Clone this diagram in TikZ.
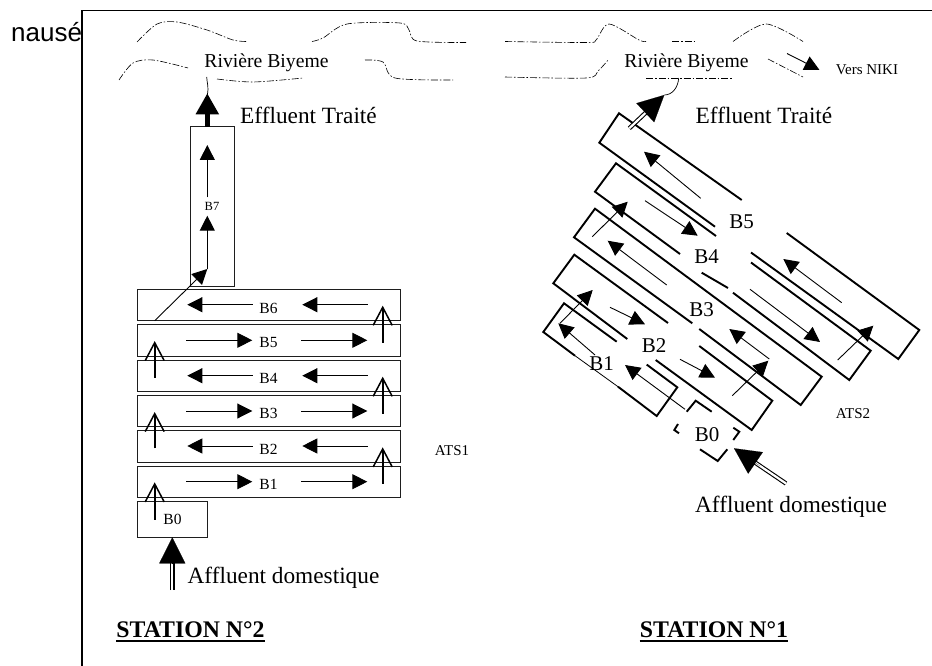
\documentclass[tikz,border=0pt]{standalone}
\usepackage{fontspec}
\setmainfont{Liberation Serif}
\newfontfamily\noteface{Liberation Sans}
\usetikzlibrary{arrows.meta,calc,positioning}
\definecolor{BoxGrey}{RGB}{30,30,30}
\tikzset{
  thinbox/.style={draw=BoxGrey,line width=1pt},
  thickbox/.style={line width=1.9pt},
  flow/.style={line width=0.9pt,-{Triangle[length=15pt,width=15pt]}},
  riser/.style={line width=2.4pt,-{Straight Barb[length=18pt,width=19pt,line width=1.5pt]}},
  inlet/.style={double,line width=1.1pt,double distance=2.2pt},
  inlethead/.style={line width=0.1pt,-{Triangle[length=26pt,width=26pt]}},
  river/.style={line width=0.6pt,dash pattern=on 7pt off 2pt on 1.5pt off 2pt},
  bigtext/.style={font=\fontsize{23.3}{23.3}\selectfont,anchor=base,inner sep=0pt},
  midtext/.style={font=\fontsize{19.7}{20}\selectfont,anchor=base,inner sep=0pt},
  tagtext/.style={font=\fontsize{15}{15}\selectfont,anchor=base,inner sep=0pt},
  basintext/.style={font=\fontsize{21}{21}\selectfont,anchor=base,inner sep=0pt},
  titletext/.style={font=\fontsize{23.8}{23.8}\selectfont\bfseries,anchor=base,inner sep=0pt}
}
\begin{document}
\begin{tikzpicture}[x=1pt,y=-1pt]
\useasboundingbox (0,0) rectangle (932,666);

% clipped text and frame
\begin{scope}
\clip (0,0) rectangle (81.5,60);
\node[font=\noteface\fontsize{26}{26}\selectfont,anchor=base west,inner sep=0pt] (clipped) at (11,41.5) {nausé};
\end{scope}
\draw[line width=1.4pt] (82,666) -- (82,10.5) -- (932,10.5);

% river banks
\draw[river] plot[smooth] coordinates {(137,42) (157,24) (177,22) (207,30) (233,40) (247,41.5)};
\draw[river] plot[smooth] coordinates {(312,41.5) (323,38) (347,24) (400,23) (409,30) (417,41) (466,42.5)};
\draw[river] plot[smooth] coordinates {(505,41.5) (586,42.5) (596,40) (609,24) (639,40) (646,41.5)};
\draw[river] (672,41.5) -- (697,41.5);
\draw[river] plot[smooth] coordinates {(733,41.5) (766,24) (803,41.5)};
\draw[river] plot[smooth] coordinates {(119,80) (133,63) (153,60) (188,68)};
\draw[river] plot[smooth] coordinates {(217,79) (253,82) (303,78)};
\draw[river] plot[smooth] coordinates {(365,60) (383,62) (395,78) (453,80)};
\draw[river] plot[smooth] coordinates {(505,77) (586,78) (598,71) (609,59)};
\draw[river] (646,78) -- (733,78);
\draw[river] plot[smooth] coordinates {(768,59) (803,77)};
\node[midtext] (riverA) at (266.5,68) {Rivière Biyeme};
\node[midtext] (riverB) at (686.5,68) {Rivière Biyeme};
\node[tagtext] (niki) at (867,75) {Vers NIKI};
\coordinate (nikiA) at (787,53.5);
\coordinate (nikiB) at (819.5,70);
\draw[flow] (nikiA) -- (nikiB);

% station 2
\foreach \name/\ytop/\ybot/\ylab in {B6/289.5/320.5/313,B5/324.5/356/347.5,B4/360/391.5/383,B3/395.5/426.5/418.5,B2/430.5/462/454.5,B1/466/497.5/489}{
  \draw[thinbox] (137.5,\ytop) rectangle (400.5,\ybot);
  \node[tagtext,font=\fontsize{15.5}{15.5}\selectfont] (\name) at (268.5,\ylab) {\name};
}
\draw[thinbox] (137.5,501.5) rectangle (207.5,537);
\node[tagtext,font=\fontsize{15.5}{15.5}\selectfont] (Bzero) at (172.5,524.5) {B0};
\draw[thinbox] (190,126.5) rectangle (234,286);
\node[tagtext,font=\fontsize{12.5}{12.5}\selectfont] (Bseven) at (212,210) {B7};
\foreach \y in {304.7,375.7,446}{
  \draw[flow] (252.7,\y) -- (187.3,\y);
  \draw[flow] (367.7,\y) -- (302.3,\y);
}
\foreach \y in {340.3,411,481.7}{
  \draw[flow] (186,\y) -- (252.3,\y);
  \draw[flow] (301,\y) -- (367.3,\y);
}
\foreach \y/\z in {342.7/305.7,413.7/376.7,483.7/447.3}
  \draw[riser] (382.7,\y) -- (382.7,\z);
\foreach \y/\z in {377.7/341,448.3/412,519.7/482.3}
  \draw[riser] (154.7,\y) -- (154.7,\z);
\draw[flow] (154.7,320.7) -- (207.3,269);
\draw[flow,line width=1.2pt] (207.3,268.5) -- (207.3,215.7);
\draw[flow] (207.3,197.3) -- (207.3,145);
\draw[line width=5pt,-{Triangle[length=21pt,width=22pt]}] (207.3,126.7) -- (207.3,93.3);
\draw[line width=0.7pt] (207.3,95) .. controls (209,86) and (207,84) .. (206.7,77);
\node[bigtext] (effluentA) at (308.5,124) {Effluent Traité};
\coordinate (inletA) at (172.3,590);
\coordinate (inletB) at (172.3,537.3);
\draw[inlet] (inletA) -- (172.3,560);
\draw[inlethead] (172.3,564) -- (inletB);
\node[bigtext] (affluentA) at (283.5,583) {Affluent domestique};
\node[tagtext] (atsA) at (452,455) {ATS1};
\node[titletext] (stationB) at (190.5,637.5) {STATION N°2};
\draw[line width=1.7pt] ([yshift=-3.5pt]stationB.base west) -- ([yshift=-3.5pt]stationB.base east);

% station 1
\draw[thickbox] (741.7,200) -- (619,113.3) -- (599.3,142.7) -- (715,226.7)
  (751,252.5) -- (898.3,359) -- (919.3,330) -- (786.7,233);
\draw[thickbox] (716,236) -- (616,163.3) -- (595,191.7) -- (680,254)
  (701.7,272.7) -- (728,288) (733,292.7) -- (849.3,380) -- (870.7,350.7) -- (751,262.5);
\draw[thickbox] (692.3,323.3) -- (574,237.3) -- (595,208.7) -- (821.7,376.7) -- (800.7,405) -- (699.3,329);
\draw[thickbox] (627.3,339) -- (553.3,283.3) -- (574.3,254.7) -- (668,323)
  (699.3,346) -- (772.3,400.7) -- (751.7,430) -- (655.7,360);
\draw[thickbox] (616.7,341.7) -- (564,303.3) -- (543.3,332) -- (575,355.7)
  (618,386.7) -- (656.7,416) -- (677.3,387.3) -- (646.7,364.6);
\draw[line width=0.8pt] (575,355.7) -- (618,386.7);
\draw[thickbox] (678,424) -- (674.3,430) -- (679,433.3)
  (686.7,411.7) -- (695.7,400.7) -- (711.7,411.7)
  (733.3,427.7) -- (739.3,431.7) -- (733.3,440)
  (700,449.3) -- (717.7,461) -- (727.3,449.3);
\node[basintext] (Sfive) at (741.5,228) {B5};
\node[basintext] (Sfour) at (706.5,263) {B4};
\node[basintext] (Sthree) at (701.5,316) {B3};
\node[basintext] (Stwo) at (654,352) {B2};
\node[basintext] (Sone) at (601.5,370) {B1};
\node[basintext] (Szero) at (707,441) {B0};
\foreach \ax/\ay/\bx/\by in {700.7/198.3/644/151.7,841.7/302.7/783.3/259,645/200.7/697.7/235.7,750/289.3/820/342,
  592.3/236.7/627.7/201.7,666.7/285/607.7/240.7,769.3/359/729.3/329,837.7/360/873.3/325.7,
  610/307.3/645/324.3,680/359.3/715/377.7,732.3/395.7/768.3/360.7,560/323.3/592.7/290,
  595/355/558.3/323.3,685/409.3/625/365}
  \draw[flow] (\ax,\ay) -- (\bx,\by);
\coordinate (inletC) at (786,483.5);
\coordinate (inletD) at (734,448.3);
\draw[inlet] (inletC) -- (755,462.5);
\draw[inlethead] (760,466) -- (inletD);
\node[bigtext] (affluentB) at (791,512.5) {Affluent domestique};
\node[tagtext] (atsB) at (853,418) {ATS2};
\coordinate (outletA) at (629.3,128.3);
\coordinate (outletB) at (664.3,95);
\draw[inlet] (outletA) -- (647,111.5);
\draw[inlethead] (645,113) -- (outletB);
\draw[line width=0.7pt] (outletB) .. controls (672,95) and (678,88) .. (678.7,78);
\node[bigtext] (effluentB) at (764,124) {Effluent Traité};
\node[titletext] (stationA) at (714,637.5) {STATION N°1};
\draw[line width=1.7pt] ([yshift=-3.5pt]stationA.base west) -- ([yshift=-3.5pt]stationA.base east);
\end{tikzpicture}
\end{document}
